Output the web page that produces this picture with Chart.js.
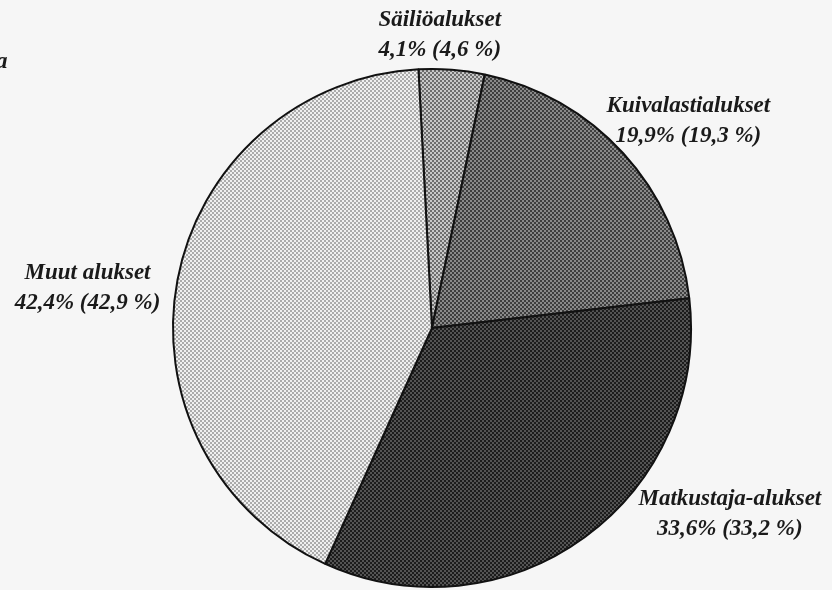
<!DOCTYPE html>
<html>
<head>
<meta charset="utf-8">
<script src="https://cdn.jsdelivr.net/npm/chart.js@4.4.3/dist/chart.umd.min.js"></script>
<style>
  html, body { margin: 0; padding: 0; background: #f6f6f6; }
  #wrap { position: relative; width: 832px; height: 590px; }
</style>
</head>
<body>
<div id="wrap"><canvas id="myChart" width="832" height="590"></canvas></div>
<script>
const categories = ['Säiliöalukset', 'Kuivalastialukset', 'Matkustaja-alukset', 'Muut alukset']
const shares = [4.1, 19.9, 33.6, 42.4]
const sharesPrev = ['4,6', '19,3', '33,2', '42,9']
const shareLabels = ['4,1%', '19,9%', '33,6%', '42,4%']

// halftone tones: [light, dark]
const tones = [['#c8c8c8', '#6e6e6e'], ['#8a8a8a', '#3e3e3e'], ['#545454', '#1c1c1c'], ['#f0f0f0', '#ababab']]

function halftone(light, dark) {
  const c = document.createElement('canvas')
  c.width = 4
  c.height = 4
  const g = c.getContext('2d')
  g.fillStyle = light
  g.fillRect(0, 0, 4, 4)
  g.fillStyle = dark
  g.fillRect(0, 0, 2, 2)
  g.fillRect(2, 2, 2, 2)
  return g.createPattern(c, 'repeat')
}

// label anchors relative to pie centre, in units of the radius
const labelSpots = [[0.03, -1.13], [0.99, -0.80], [1.15, 0.72], [-1.33, -0.155]]

const pieLabels = {
  id: 'pieLabels',
  afterDraw(chart) {
    const arc = chart.getDatasetMeta(0).data[0]
    const cx = arc.x, cy = arc.y, r = arc.outerRadius
    const ctx = chart.ctx
    ctx.save()
    ctx.fillStyle = '#1a1a1a'
    ctx.textAlign = 'center'
    ctx.textBaseline = 'middle'
    ctx.font = 'italic bold 23px "Liberation Serif", "DejaVu Serif", serif'
    categories.forEach((name, i) => {
      const x = cx + labelSpots[i][0] * r
      const y = cy + labelSpots[i][1] * r
      ctx.fillText(name, x, y - 15)
      ctx.fillText(shareLabels[i] + ' (' + sharesPrev[i] + ' %)', x, y + 15)
    })
    // cut-off fragment at the left edge of the scan
    ctx.textAlign = 'left'
    ctx.fillText('a', -4, 62)
    ctx.restore()
  }
}

Chart.defaults.animation = false
const ctx = document.getElementById('myChart')
new Chart(ctx, {
  type: 'pie',
  data: {
    labels: categories,
    datasets: [{
      data: shares,
      backgroundColor: tones.map(t => halftone(t[0], t[1])),
      borderColor: '#111',
      borderWidth: 2
    }]
  },
  options: {
    responsive: false,
    rotation: -3,
    layout: { padding: { left: 172, right: 140, top: 68, bottom: 2 } },
    plugins: {
      legend: { display: false },
      tooltip: { enabled: false }
    }
  },
  plugins: [pieLabels]
})
</script>
</body>
</html>
